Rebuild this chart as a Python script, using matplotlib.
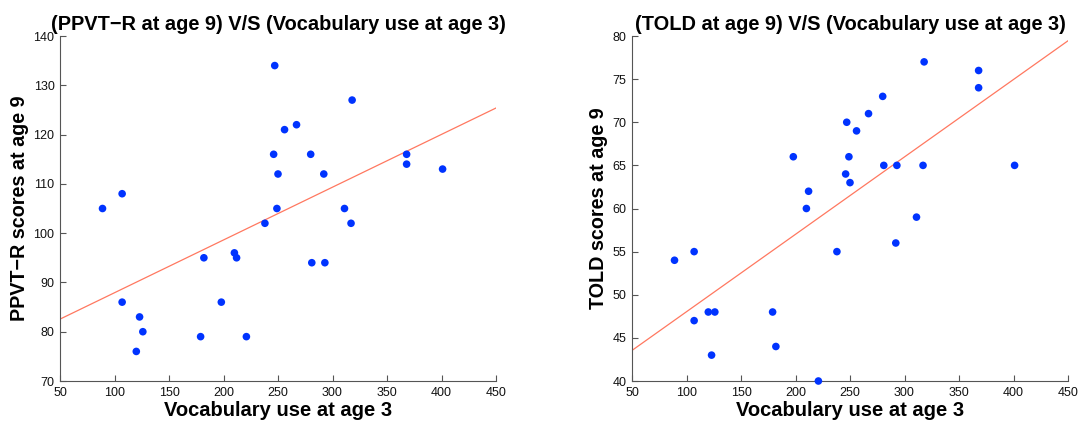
import numpy as np
import matplotlib
matplotlib.use("Agg")
import matplotlib.pyplot as plt

plt.rcParams['font.family'] = ['Liberation Sans', 'DejaVu Sans']

vocab_age3 = [89, 107, 107, 120, 123, 126, 179, 182, 198, 210, 212, 221, 238, 246,
              247, 249, 250, 256, 267, 280, 281, 292, 293, 311, 317, 318, 368, 368, 401]
ppvt_age9 = [105, 108, 86, 76, 83, 80, 79, 95, 86, 96, 95, 79, 102, 116,
             134, 105, 112, 121, 122, 116, 94, 112, 94, 105, 102, 127, 116, 114, 113]
told_age9 = [54, 55, 47, 48, 43, 48, 48, 44, 66, 60, 62, 40, 55, 64,
             70, 66, 63, 69, 71, 73, 65, 56, 65, 59, 65, 77, 76, 74, 65]

xlim = [50, 450]
xticks = [50, 100, 150, 200, 250, 300, 350, 400, 450]
ppvt_lim = [70, 140]
ppvt_ticks = [70, 80, 90, 100, 110, 120, 130, 140]
told_lim = [40, 80]
told_ticks = [40, 45, 50, 55, 60, 65, 70, 75, 80]

titles = ["(PPVT\u2212R at age 9) V/S (Vocabulary use at age 3)",
          "(TOLD at age 9) V/S (Vocabulary use at age 3)"]
xlabel = "Vocabulary use at age 3"
ylabels = ["PPVT\u2212R scores at age 9", "TOLD scores at age 9"]

fig = plt.figure(figsize=(10.8, 4.24), dpi=100)
W, H = 1080, 424
axes_px = [(60, 36, 436, 345), (632, 36, 436, 345)]

blue = '#0033ff'
red = '#ff7860'
spine_c = '#555555'

for i, (ys, ylim, yt) in enumerate([(ppvt_age9, ppvt_lim, ppvt_ticks),
                                     (told_age9, told_lim, told_ticks)]):
    l, t, w, h = axes_px[i]
    ax = fig.add_axes([l / W, (H - t - h) / H, w / W, h / H])
    x = np.array(vocab_age3, float)
    y = np.array(ys, float)
    ax.scatter(x, y, s=30, color=blue, edgecolors='none', zorder=3, clip_on=False)
    m, b = np.polyfit(x, y, 1)
    xl = np.array(xlim, float)
    ax.plot(xl, m * xl + b, color=red, lw=0.9, zorder=2)
    ax.set_xlim(xlim)
    ax.set_ylim(ylim)
    ax.set_xticks(xticks)
    ax.set_yticks(yt)
    ax.spines['top'].set_visible(False)
    ax.spines['right'].set_visible(False)
    for s in ['left', 'bottom']:
        ax.spines[s].set_color(spine_c)
        ax.spines[s].set_linewidth(0.8)
    ax.tick_params(direction='in', length=4, width=0.8, color=spine_c,
                   labelsize=9, labelcolor='#111111')
    ax.tick_params(axis='x', pad=4)
    ax.tick_params(axis='y', pad=4)
    ax.set_title(titles[i], fontsize=14.4, fontweight='bold', pad=4)
    ax.set_xlabel(xlabel, fontsize=14.5, fontweight='bold', labelpad=2)
    ax.set_ylabel(ylabels[i], fontsize=14.2, fontweight='bold', labelpad=3)

fig.savefig('out.png', dpi=100)
